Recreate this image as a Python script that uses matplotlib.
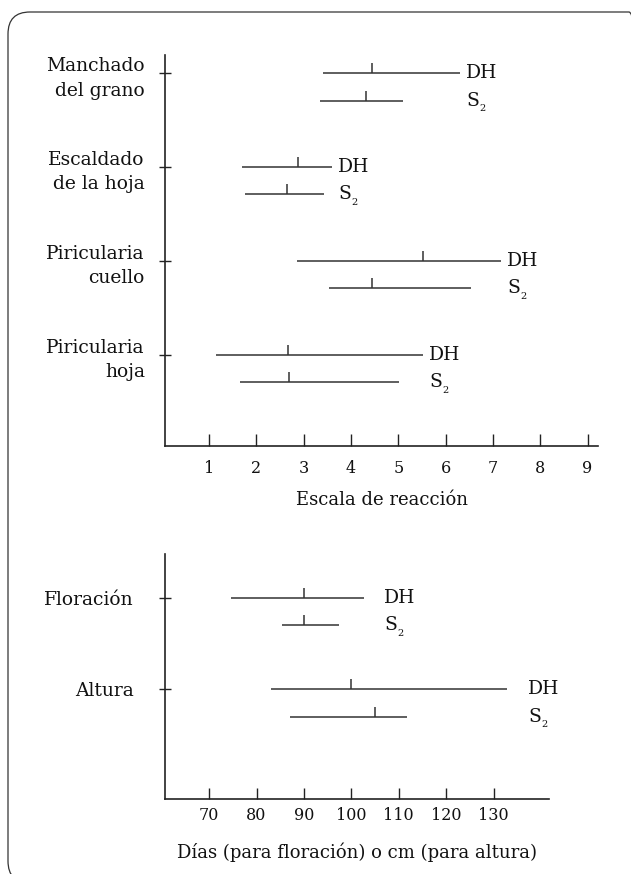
import numpy as np
import matplotlib
matplotlib.use("Agg")
import matplotlib.pyplot as plt
from matplotlib.patches import FancyBboxPatch
from matplotlib.transforms import IdentityTransform

plt.rcParams['font.family'] = ['DejaVu Serif']

# enfermedades, escala de reacción 1-9
enfermedades = ["Manchado\ndel grano", "Escaldado\nde la hoja", "Piricularia\ncuello", "Piricularia\nhoja"]
dh_min = [3.40, 1.70, 2.86, 1.14]
dh_max = [6.30, 3.60, 7.17, 5.52]
dh_media = [4.44, 2.88, 5.53, 2.66]
s2_min = [3.35, 1.77, 3.53, 1.66]
s2_max = [5.09, 3.44, 6.54, 5.01]
s2_media = [4.32, 2.65, 4.45, 2.68]
escala_ticks = [1, 2, 3, 4, 5, 6, 7, 8, 9]

# floración (días) y altura (cm)
caracteres = ["Floración", "Altura"]
dh2_min = [74.6, 83.1]
dh2_max = [102.6, 132.9]
dh2_media = [90, 100]
s22_min = [85.4, 87.0]
s22_max = [97.4, 111.8]
s22_media = [90, 105]
dias_ticks = [70, 80, 90, 100, 110, 120, 130]

LINE = '#333333'
TXT = '#111111'


def panel(ax, labels, dmin, dmax, dmed, smin, smax, smed, off, tick_h, gap):
    n = len(labels)
    y = np.arange(n, 0, -1).astype(float)
    ys = y - off
    ax.hlines(y, dmin, dmax, color=LINE, lw=1.1)
    ax.vlines(dmed, y, y + tick_h, color=LINE, lw=1.1)
    ax.hlines(ys, smin, smax, color=LINE, lw=1.1)
    ax.vlines(smed, ys, ys + tick_h, color=LINE, lw=1.1)
    for i in range(n):
        ax.annotate("DH", (dmax[i], y[i]), xytext=(gap, -3.6), textcoords='offset points',
                    ha='left', va='baseline', fontsize=13.5, color=TXT)
        s = ax.annotate("S", (dmax[i], ys[i]), xytext=(gap, -3.6), textcoords='offset points',
                        ha='left', va='baseline', fontsize=13.5, color=TXT)
        # subíndice pequeño, pegado a la S
        ax.annotate("2", (1, 0), xycoords=s, xytext=(0.3, -1.2), textcoords='offset points',
                    ha='left', va='baseline', fontsize=7, color=TXT)
    ax.set_yticks(y)
    ax.set_yticklabels(labels, fontsize=13.5, color=TXT, linespacing=1.45)
    for sp in ['top', 'right']:
        ax.spines[sp].set_visible(False)
    for sp in ['left', 'bottom']:
        ax.spines[sp].set_linewidth(1.2)
        ax.spines[sp].set_color('#222222')


fig = plt.figure(figsize=(6.31, 8.74), dpi=100)

ax1 = fig.add_axes([0.2615, 0.4897, 0.6869, 0.4474])
panel(ax1, enfermedades, dh_min, dh_max, dh_media, s2_min, s2_max, s2_media, 0.29, 0.106, 4.6)
ax1.set_xlim(0.07, 9.23)
ax1.set_ylim(0.031, 4.195)
ax1.set_xticks(escala_ticks)
ax1.tick_params(axis='x', direction='in', length=8.9, width=1.0, pad=10, labelsize=11.5,
                color='#222222', labelcolor=TXT)
ax1.tick_params(axis='y', direction='inout', length=9, width=1.0, pad=10, color='#222222')
ax1.set_xlabel("Escala de reacción", fontsize=13, color=TXT, labelpad=10)

ax2 = fig.add_axes([0.2615, 0.0858, 0.6078, 0.2803])
panel(ax2, caracteres, dh2_min, dh2_max, dh2_media, s22_min, s22_max, s22_media, 0.30, 0.11, 15)
ax2.set_xlim(60.7, 141.6)
ax2.set_ylim(-0.20, 2.48)
ax2.set_xticks(dias_ticks)
ax2.tick_params(axis='x', direction='in', length=7.7, width=1.0, pad=6, labelsize=11.5,
                color='#222222', labelcolor=TXT)
ax2.tick_params(axis='y', direction='inout', length=9, width=1.0, pad=18, color='#222222')
ax2.set_xlabel("Días (para floración) o cm (para altura)", fontsize=13, color=TXT, labelpad=13)

# marco redondeado alrededor de la figura (en píxeles)
marco = FancyBboxPatch((8, -9), 643, 871, boxstyle="round,pad=0,rounding_size=22",
                       transform=IdentityTransform(), fill=False, ec='#333333', lw=0.9,
                       clip_on=False)
fig.add_artist(marco)

fig.savefig("out.png", dpi=100)
